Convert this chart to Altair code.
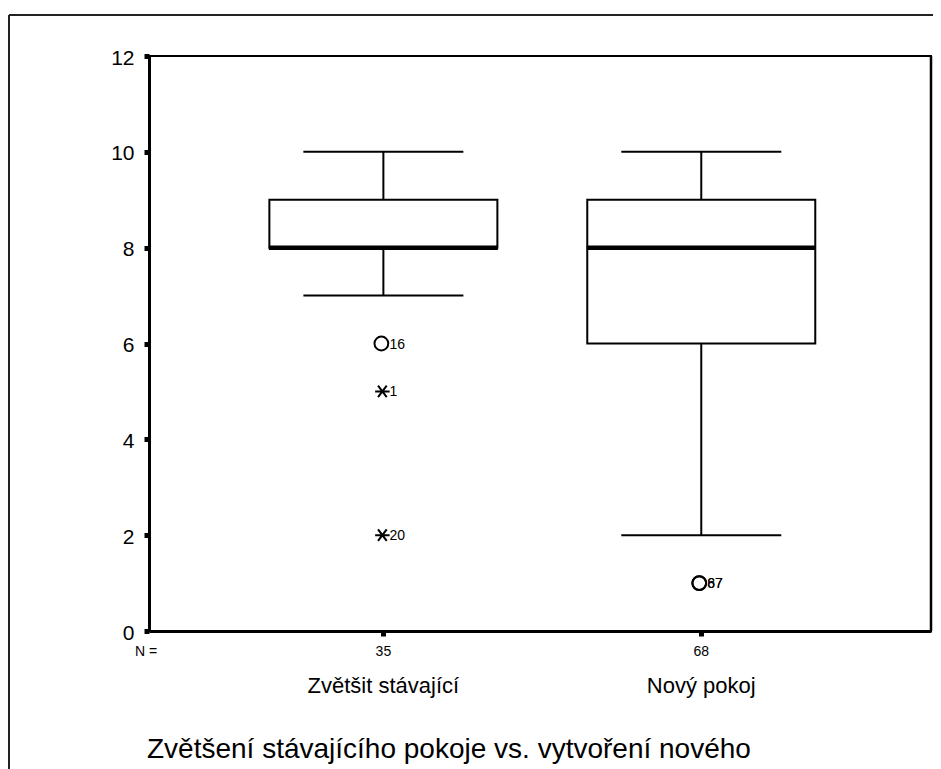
import altair as alt
import pandas as pd

# ---- data ----
categories = ["Zvětšit stávající", "Nový pokoj"]
n_counts = ["35", "68"]
whisker_low = [7, 2]
q1 = [8, 6]
median = [8, 8]
q3 = [9, 9]
whisker_high = [10, 10]

outlier_cat = ["Zvětšit stávající", "Zvětšit stávající", "Zvětšit stávající", "Nový pokoj", "Nový pokoj"]
outlier_val = [6, 5, 2, 1, 1]
outlier_kind = ["outlier", "extreme", "extreme", "outlier", "outlier"]
outlier_id = ["16", "1", "20", "67", "87"]

y_ticks = [0, 2, 4, 6, 8, 10, 12]
title_text = "Zvětšení stávajícího pokoje vs. vytvoření nového"

FONT = "Liberation Sans"
W, H = 782, 575

boxes = pd.DataFrame({
    "cat": categories, "n": n_counts, "lo": whisker_low, "q1": q1,
    "med": median, "q3": q3, "hi": whisker_high,
})
outs = pd.DataFrame({"cat": outlier_cat, "val": outlier_val,
                     "kind": outlier_kind, "id": outlier_id})
one = pd.DataFrame({"t": [title_text]})

xscale = alt.Scale(type="point", domain=categories, padding=0.73, align=0.505)
x = alt.X("cat:N", scale=xscale, sort=categories,
          axis=alt.Axis(title=None, labels=False, ticks=True, tickSize=5,
                        tickWidth=5, tickColor="black", domainColor="black",
                        domainWidth=3, grid=False))
yscale = alt.Scale(domain=[0, 12], nice=False, zero=True)
yaxis = alt.Axis(title=None, values=y_ticks, grid=False, labelFontSize=21,
                 labelFont=FONT, labelColor="black", labelPadding=10,
                 labelOffset=2, tickSize=5, tickWidth=5, tickColor="black",
                 domainColor="black", domainWidth=3)

base = alt.Chart(boxes)

whisk = base.mark_rule(color="black", strokeWidth=2).encode(
    x=x, y=alt.Y("lo:Q", scale=yscale, axis=yaxis), y2="hi:Q")
cap_lo = base.mark_tick(orient="horizontal", size=160, thickness=2, color="black", opacity=1).encode(
    x=x, y=alt.Y("lo:Q", scale=yscale))
cap_hi = base.mark_tick(orient="horizontal", size=160, thickness=2, color="black", opacity=1).encode(
    x=x, y=alt.Y("hi:Q", scale=yscale))
box = base.mark_bar(size=228, fill="white", stroke="black", strokeWidth=2).encode(
    x=x, y=alt.Y("q1:Q", scale=yscale), y2="q3:Q")
med = base.mark_tick(orient="horizontal", size=229, thickness=4.5, color="black", opacity=1).encode(
    x=x, y=alt.Y("med:Q", scale=yscale))

ob = alt.Chart(outs)
circ = ob.transform_filter(alt.datum.kind == "outlier").mark_point(
    shape="circle", filled=False, size=190, strokeWidth=2, color="black", opacity=1,
    xOffset=-2).encode(
    x=x, y=alt.Y("val:Q", scale=yscale))
aster = ob.transform_filter(alt.datum.kind == "extreme").mark_point(
    shape="M-1,0L1,0M-0.6,-0.8L0.6,0.8M-0.6,0.8L0.6,-0.8", filled=False, size=210,
    strokeWidth=2, color="black", opacity=1, xOffset=-1).encode(
    x=x, y=alt.Y("val:Q", scale=yscale))
olab = ob.mark_text(align="left", baseline="middle", dx=6, dy=1, fontSize=14,
                    font=FONT, color="black").encode(
    x=x, y=alt.Y("val:Q", scale=yscale), text="id:N")

nlab = base.mark_text(baseline="middle", fontSize=14, font=FONT, color="black").encode(
    x=x, y=alt.value(H + 21), text="n:N")
clab = base.mark_text(baseline="middle", fontSize=22, font=FONT, color="black").encode(
    x=x, y=alt.value(H + 55), text="cat:N")

oc = alt.Chart(one)
neq = oc.mark_text(text="N =", baseline="middle", align="center", fontSize=14,
                   font=FONT, color="black").encode(x=alt.value(-3), y=alt.value(H + 21))
ttl = oc.mark_text(align="left", baseline="alphabetic", fontSize=28, font=FONT,
                   color="black").encode(x=alt.value(-2), y=alt.value(H + 127), text="t:N")
frame_v = oc.mark_rule(color="#222222", strokeWidth=2).encode(
    x=alt.value(-140), y=alt.value(-41), y2=alt.value(H + 200))
frame_h = oc.mark_rule(color="#222222", strokeWidth=2).encode(
    x=alt.value(-140), x2=alt.value(W + 40), y=alt.value(-41))
right_edge = oc.mark_rule(color="black", strokeWidth=2.5).encode(
    x=alt.value(W), y=alt.value(0), y2=alt.value(H))

chart = alt.layer(
    frame_v, frame_h, whisk, cap_lo, cap_hi, box, med, circ, aster, olab,
    nlab, clab, neq, ttl, right_edge
).properties(
    width=W, height=H,
    autosize=alt.AutoSizeParams(type="none"),
    padding={"left": 141, "top": 48, "right": 2, "bottom": 140},
    background="white",
).configure_view(stroke="black", strokeWidth=2)

chart.save("out.html", embed_options={"renderer": "svg", "actions": False})
